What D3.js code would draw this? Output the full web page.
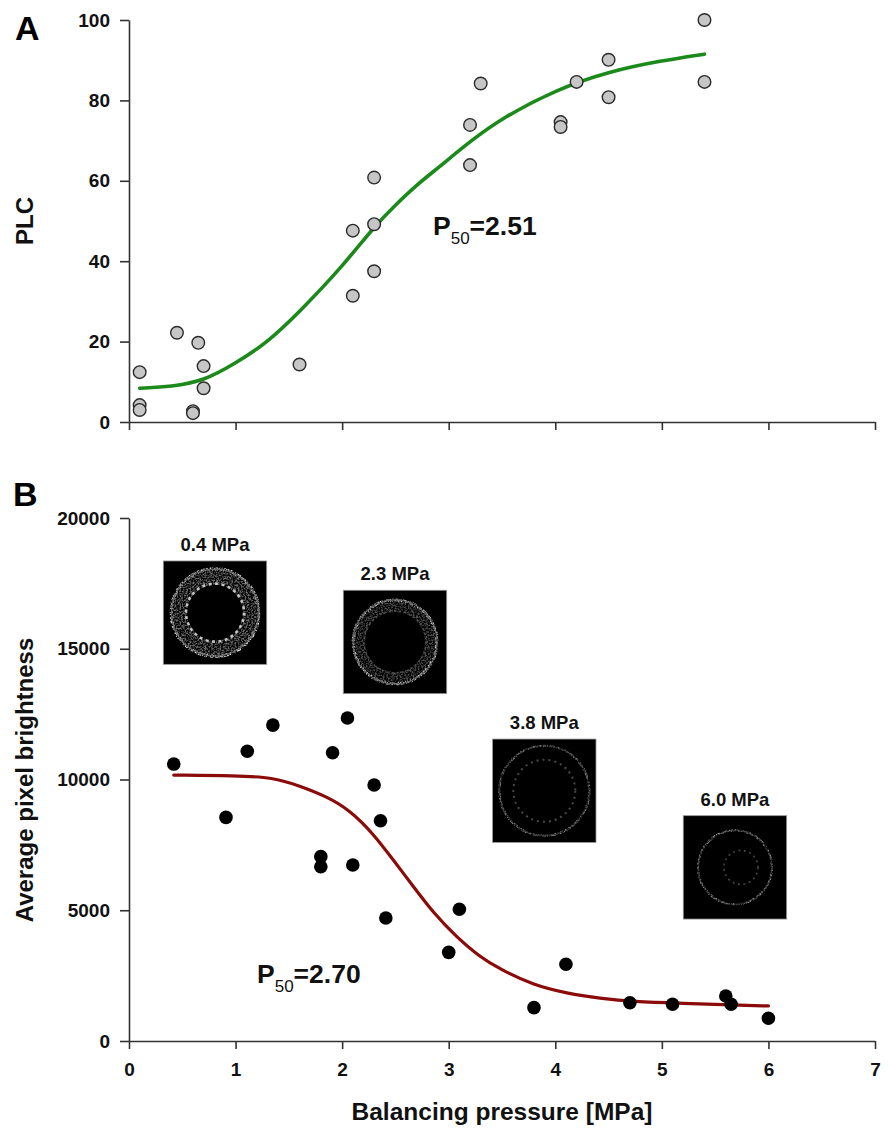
<!DOCTYPE html>
<html><head><meta charset="utf-8">
<script src="https://cdn.jsdelivr.net/npm/d3@7"></script>
<style>
html,body{margin:0;padding:0;background:#fff;}
svg{display:block;font-family:"Liberation Sans",Arial,sans-serif;}
</style></head>
<body>
<svg id="chart" width="892" height="1143"></svg>
<script>
// ---------- DATA ----------
const xTicks = [0,1,2,3,4,5,6,7];
const plcTicks = [0,20,40,60,80,100];
const brightTicks = [0,5000,10000,15000,20000];

// Panel A: PLC vs balancing pressure
const plcX = [0.1,0.1,0.1,0.45,0.6,0.6,0.65,0.7,0.7,1.6,2.1,2.1,2.3,2.3,2.3,3.2,3.2,3.3,4.05,4.05,4.2,4.5,4.5,5.4,5.4];
const plcY = [12.4,4.2,3.0,22.2,2.7,2.2,19.7,13.9,8.4,14.3,47.6,31.4,60.8,49.2,37.5,73.9,63.9,84.2,74.6,73.4,84.6,90.1,80.8,100,84.6];
// fitted curve A
const fitAX = [0.1,0.4,0.7,1.0,1.3,1.6,2.0,2.3,2.5,2.7,2.9,3.2,3.5,4.0,4.5,5.0,5.4];
const fitAY = [8.4,8.8,10.2,14.6,19.8,27.4,38.6,48.6,54,59,63.2,69.8,75.6,82.6,87.2,89.9,91.5];

// Panel B: average pixel brightness vs balancing pressure
const brX = [0.42,0.91,1.11,1.35,1.8,1.8,1.91,2.05,2.1,2.3,2.36,2.41,3.0,3.1,3.8,4.1,4.7,5.1,5.6,5.65,6.0];
const brY = [10590,8550,11080,12080,7050,6665,11025,12350,6730,9790,8425,4705,3390,5036,1275,2935,1465,1405,1720,1405,870];
// fitted curve B
const fitBX = [0.42,1.0,1.35,1.6,1.86,2.07,2.29,2.48,2.67,2.86,3.07,3.29,3.48,3.79,4.11,4.42,4.73,5.2,5.67,6.0];
const fitBY = [10170,10150,10080,9760,9340,8830,7940,6920,5900,4880,3990,3220,2750,2140,1820,1630,1500,1440,1380,1340];

// Inset micrographs (label, centre in data coordinates)
const insetLabels = ["0.4 MPa","2.3 MPa","3.8 MPa","6.0 MPa"];
const insetX = [0.807,2.496,3.897,5.686];
const insetY = [16380,15260,9570,6640];

// ---------- CHART ----------
const svg = d3.select("#chart");
const FONT = '"Liberation Sans",Arial,sans-serif';
const x = d3.scaleLinear().domain([0,7]).range([129,875]);
const yA = d3.scaleLinear().domain([0,100]).range([422,20]);
const yB = d3.scaleLinear().domain([0,20000]).range([1041,518]);
const fmt = d3.format("d");

function styleAxis(g){
  g.selectAll("path.domain").attr("stroke","#333").attr("stroke-width",1.6);
  g.selectAll(".tick line").attr("stroke","#333").attr("stroke-width",1.6);
  g.selectAll(".tick text").attr("fill","#111").attr("font-size",19).attr("font-weight","bold").attr("font-family",FONT);
}

// Panel A axes
svg.append("g").attr("transform","translate(0,422)")
  .call(d3.axisBottom(x).tickValues(xTicks).tickFormat("").tickSize(8).tickSizeOuter(0))
  .call(styleAxis);
svg.append("g").attr("transform","translate(129,0)")
  .call(d3.axisLeft(yA).tickValues(plcTicks).tickFormat(fmt).tickSize(9).tickPadding(10).tickSizeOuter(0))
  .call(styleAxis);

// Panel B axes
svg.append("g").attr("transform","translate(0,1041)")
  .call(d3.axisBottom(x).tickValues(xTicks).tickFormat(fmt).tickSize(8).tickPadding(14).tickSizeOuter(0))
  .call(styleAxis);
svg.append("g").attr("transform","translate(129,0)")
  .call(d3.axisLeft(yB).tickValues(brightTicks).tickFormat(fmt).tickSize(9).tickPadding(10).tickSizeOuter(0))
  .call(styleAxis);

// Titles / panel letters
svg.append("text").attr("x",15).attr("y",40).text("A")
  .attr("font-size",34).attr("font-weight","bold").attr("fill","#000");
svg.append("text").attr("x",13).attr("y",506).text("B")
  .attr("font-size",34).attr("font-weight","bold").attr("fill","#000");
svg.append("text").attr("transform","translate(33,221) rotate(-90)").attr("text-anchor","middle")
  .text("PLC").attr("font-size",24).attr("font-weight","bold").attr("fill","#111");
svg.append("text").attr("transform","translate(33,780) rotate(-90)").attr("text-anchor","middle")
  .text("Average pixel brightness").attr("font-size",24).attr("font-weight","bold").attr("fill","#111");
svg.append("text").attr("x",502).attr("y",1120).attr("text-anchor","middle")
  .text("Balancing pressure [MPa]").attr("font-size",24.5).attr("font-weight","bold").attr("fill","#111");

// P50 labels
function p50(xp, yp, val){
  const t = svg.append("text").attr("x",xp).attr("y",yp).attr("font-weight","bold").attr("fill","#111").attr("font-size",26.5);
  t.append("tspan").text("P");
  t.append("tspan").attr("font-size",17).attr("font-weight","normal").attr("dy",9).text("50");
  t.append("tspan").attr("dy",-9).text("=" + val);
}
p50(433,235,"2.51");
p50(257,983,"2.70");

// ---------- Insets ----------
const defs = svg.append("defs");
const f = defs.append("filter").attr("id","spk").attr("x","-20%").attr("y","-20%").attr("width","140%").attr("height","140%");
f.append("feTurbulence").attr("type","fractalNoise").attr("baseFrequency",0.6).attr("numOctaves",2).attr("seed",4).attr("result","noise");
f.append("feColorMatrix").attr("in","noise").attr("type","matrix")
  .attr("values","0 0 0 0 1  0 0 0 0 1  0 0 0 0 1  3.2 0 0 0 -1.25").attr("result","mask");
f.append("feComposite").attr("in","SourceGraphic").attr("in2","mask").attr("operator","in");
const blur = defs.append("filter").attr("id","soft");
blur.append("feGaussianBlur").attr("stdDeviation",0.6);

const BOX = 103.4;
const ringSpecs = [
  // 0.4 MPa : speckled band, bright outer edge, dotted inner ring
  [{r:36.5,w:17,c:"#6e6e6e",flt:1},{r:44,w:2.8,c:"#e6e6e6",flt:1},{r:43.5,w:1.2,c:"#666"},{r:29,w:2.6,c:"#c4c4c4",dash:"3 3.5"}],
  // 2.3 MPa
  [{r:36,w:12,c:"#505050",flt:1},{r:42,w:2.8,c:"#e0e0e0",flt:1},{r:42,w:1.2,c:"#666"},{r:31,w:1.4,c:"#555",dash:"2 3"}],
  // 3.8 MPa
  [{r:45,w:2.2,c:"#909090",flt:1},{r:45,w:0.7,c:"#333"},{r:31,w:2,c:"#4a4a4a",dash:"2 4"}],
  // 6.0 MPa
  [{r:37,w:2,c:"#a8a8a8",flt:1},{r:37,w:0.7,c:"#3a3a3a"},{r:17,w:1.6,c:"#444",dash:"2 3.5",dx:6}]
];
insetLabels.forEach((lab,i)=>{
  const cx = x(insetX[i]), cy = yB(insetY[i]);
  const g = svg.append("g");
  g.append("rect").attr("x",cx-BOX/2).attr("y",cy-BOX/2).attr("width",BOX).attr("height",BOX)
    .attr("fill","#000").attr("stroke","#999").attr("stroke-width",0.8);
  const rg = g.append("g").attr("filter","url(#soft)");
  ringSpecs[i].forEach(s=>{
    const c = rg.append("circle").attr("cx",cx+(s.dx||0)).attr("cy",cy).attr("r",s.r)
      .attr("fill","none").attr("stroke",s.c).attr("stroke-width",s.w);
    if(s.dash) c.attr("stroke-dasharray",s.dash);
    if(s.flt) c.attr("filter","url(#spk)");
  });
  svg.append("text").attr("x",cx).attr("y",cy-BOX/2-10).attr("text-anchor","middle")
    .text(lab).attr("font-size",18.5).attr("font-weight","bold").attr("fill","#111");
});

// ---------- Fit curves ----------
const lineA = d3.line().x(d=>x(d[0])).y(d=>yA(d[1])).curve(d3.curveBasis);
svg.append("path").datum(d3.zip(fitAX,fitAY)).attr("d",lineA)
  .attr("fill","none").attr("stroke","#1b8a1b").attr("stroke-width",3.6).attr("stroke-linecap","round");

const lineB = d3.line().x(d=>x(d[0])).y(d=>yB(d[1])).curve(d3.curveBasis);
svg.append("path").datum(d3.zip(fitBX,fitBY)).attr("d",lineB)
  .attr("fill","none").attr("stroke","#8b0a0a").attr("stroke-width",3.2).attr("stroke-linecap","round");

// ---------- Points ----------
svg.append("g").selectAll("circle").data(d3.zip(plcX,plcY)).join("circle")
  .attr("cx",d=>x(d[0])).attr("cy",d=>yA(d[1])).attr("r",6.3)
  .attr("fill","#c6c6c6").attr("stroke","#2a2a2a").attr("stroke-width",1.4);

svg.append("g").selectAll("circle").data(d3.zip(brX,brY)).join("circle")
  .attr("cx",d=>x(d[0])).attr("cy",d=>yB(d[1])).attr("r",6.8)
  .attr("fill","#000");
</script>
</body></html>
